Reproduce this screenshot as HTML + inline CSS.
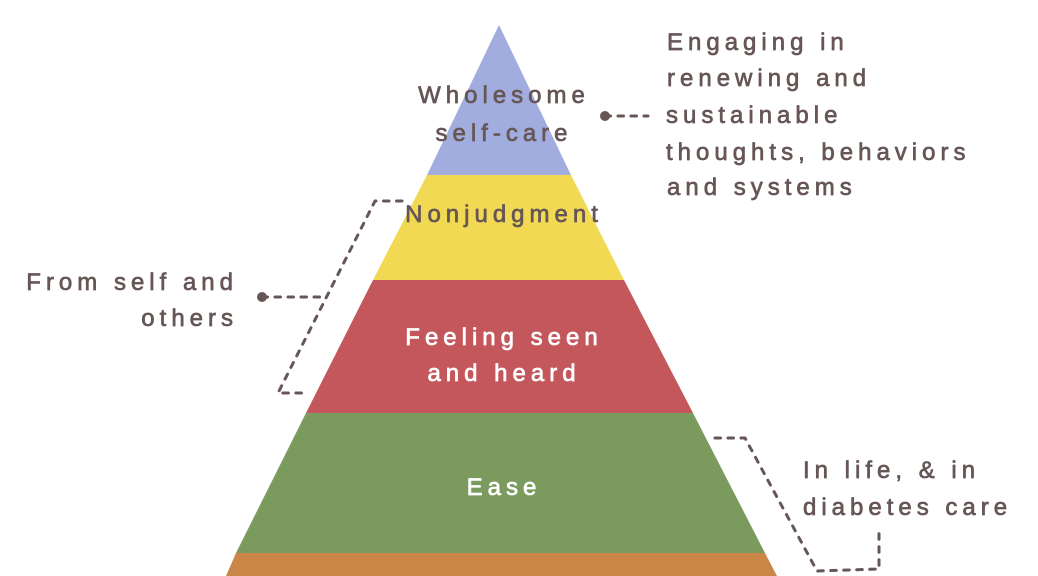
<!DOCTYPE html>
<html>
<head>
<meta charset="utf-8">
<style>
  html,body{margin:0;padding:0;background:#ffffff;}
  body{width:1038px;height:576px;overflow:hidden;}
  svg{display:block;}
  text{font-family:"Liberation Sans", sans-serif;font-size:24px;letter-spacing:5px;stroke-width:0.7px;stroke-linejoin:round;}
  .d{fill:#675656;stroke:#675656;}
  .w{fill:#ffffff;stroke:#ffffff;}
</style>
</head>
<body>
<svg width="1038" height="576" viewBox="0 0 1038 576" xmlns="http://www.w3.org/2000/svg">
  <!-- pyramid layers -->
  <polygon points="499,25 571,175 427,175" fill="#a2addf"/>
  <polygon points="427,175 571,175 624,280 373,280" fill="#f1d954"/>
  <polygon points="373,280 624,280 693,413 306,413" fill="#c3575b"/>
  <polygon points="306,413 693,413 765,553 236,553" fill="#7a9b5d"/>
  <polygon points="236,553 765,553 777,576 226,576" fill="#c98646"/>

  <!-- pyramid labels -->
  <text class="d" x="504" y="103" text-anchor="middle">Wholesome</text>
  <text class="d" x="504" y="141" text-anchor="middle">self-care</text>
  <text class="d" x="504" y="222" text-anchor="middle">Nonjudgment</text>
  <text class="w" x="504" y="345" text-anchor="middle">Feeling seen</text>
  <text class="w" x="504" y="381" text-anchor="middle">and heard</text>
  <text class="w" x="504" y="495" text-anchor="middle">Ease</text>

  <!-- connectors -->
  <g fill="none" stroke="#675656" stroke-width="3" stroke-linecap="round" stroke-dasharray="5.5 7.5">
    <line x1="605" y1="116" x2="648" y2="116"/>
    <polyline points="402,201 375,201 278,393 302,393"/>
    <line x1="262" y1="297" x2="323" y2="297"/>
    <polyline points="715,438 745,438 817,571 879,569 879,533"/>
  </g>
  <circle cx="605" cy="116" r="5" fill="#675656"/>
  <circle cx="262" cy="297" r="5" fill="#675656"/>

  <!-- right top text -->
  <text class="d" x="667" y="50">Engaging in</text>
  <text class="d" x="667" y="86">renewing and</text>
  <text class="d" x="666" y="123">sustainable</text>
  <text class="d" x="666" y="160">thoughts, behaviors</text>
  <text class="d" x="667" y="195">and systems</text>

  <!-- left text -->
  <text class="d" x="238" y="290" text-anchor="end">From self and</text>
  <text class="d" x="238" y="326" text-anchor="end">others</text>

  <!-- bottom right text -->
  <text class="d" x="803" y="478">In life, &amp; in</text>
  <text class="d" x="803" y="515">diabetes care</text>
</svg>
</body>
</html>
